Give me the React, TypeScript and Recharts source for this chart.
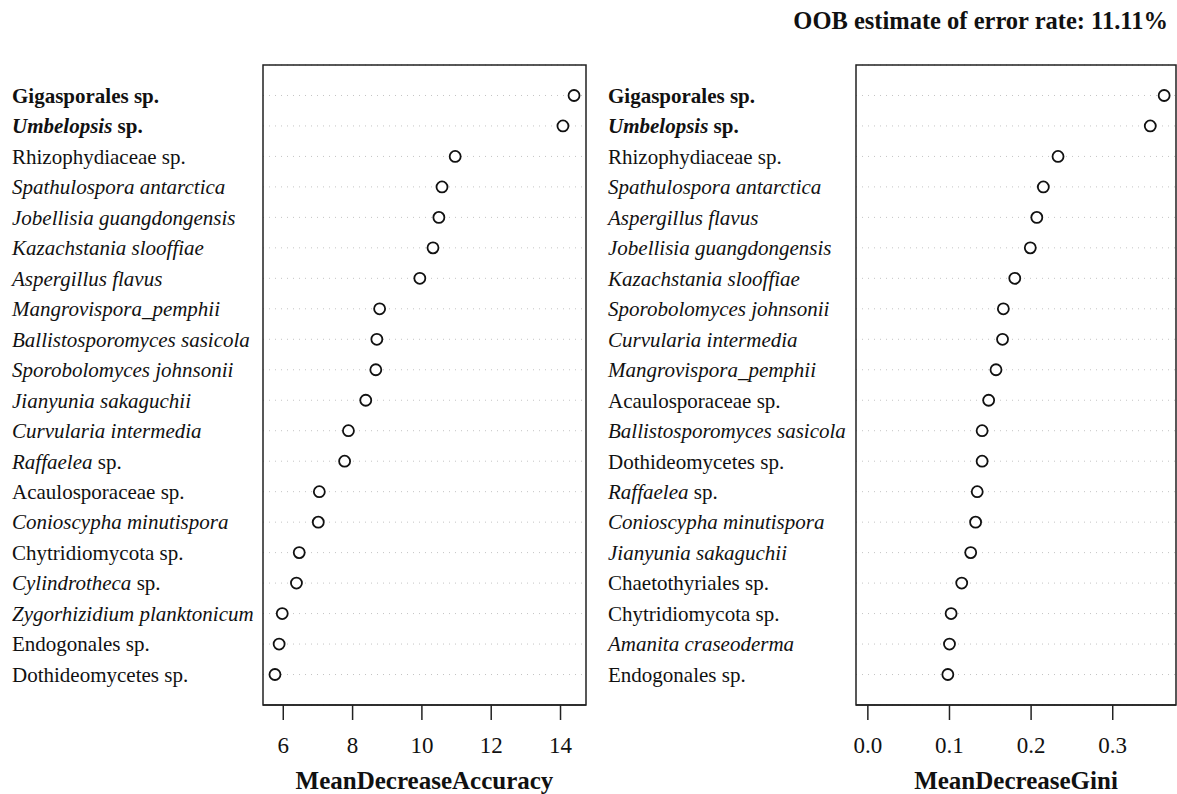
import React from 'react'
import { ScatterChart, Scatter, XAxis, YAxis, CartesianGrid, ReferenceArea } from 'recharts'

// MeanDecreaseAccuracy panel, top to bottom
const accNames = [
  'Gigasporales sp.', 'Umbelopsis sp.', 'Rhizophydiaceae sp.', 'Spathulospora antarctica',
  'Jobellisia guangdongensis', 'Kazachstania slooffiae', 'Aspergillus flavus', 'Mangrovispora_pemphii',
  'Ballistosporomyces sasicola', 'Sporobolomyces johnsonii', 'Jianyunia sakaguchii', 'Curvularia intermedia',
  'Raffaelea sp.', 'Acaulosporaceae sp.', 'Conioscypha minutispora', 'Chytridiomycota sp.',
  'Cylindrotheca sp.', 'Zygorhizidium planktonicum', 'Endogonales sp.', 'Dothideomycetes sp.',
]
const accValues = [
  14.39, 14.07, 10.96, 10.58, 10.49, 10.32, 9.94, 8.78, 8.70, 8.67,
  8.38, 7.88, 7.77, 7.04, 7.01, 6.46, 6.38, 5.97, 5.88, 5.76,
]
const accTicks = [6, 8, 10, 12, 14]

// MeanDecreaseGini panel, top to bottom
const giniNames = [
  'Gigasporales sp.', 'Umbelopsis sp.', 'Rhizophydiaceae sp.', 'Spathulospora antarctica',
  'Aspergillus flavus', 'Jobellisia guangdongensis', 'Kazachstania slooffiae', 'Sporobolomyces johnsonii',
  'Curvularia intermedia', 'Mangrovispora_pemphii', 'Acaulosporaceae sp.', 'Ballistosporomyces sasicola',
  'Dothideomycetes sp.', 'Raffaelea sp.', 'Conioscypha minutispora', 'Jianyunia sakaguchii',
  'Chaetothyriales sp.', 'Chytridiomycota sp.', 'Amanita craseoderma', 'Endogonales sp.',
]
const giniValues = [
  0.363, 0.346, 0.233, 0.215, 0.207, 0.199, 0.180, 0.166, 0.165, 0.157,
  0.148, 0.140, 0.140, 0.134, 0.132, 0.126, 0.115, 0.102, 0.100, 0.098,
]
const giniTicks = [0, 0.1, 0.2, 0.3]

const boldNames = ['Gigasporales sp.', 'Umbelopsis sp.']
const italicGenera = ['Umbelopsis', 'Raffaelea', 'Cylindrotheca']
const FONT = '"Liberation Serif", "Times New Roman", serif'

function LabelText({ name }: { name: string }) {
  const bold = boldNames.includes(name)
  const fw = bold ? 'bold' : 'normal'
  if (name.endsWith(' sp.')) {
    const genus = name.slice(0, -4)
    const ital = italicGenera.includes(genus)
    return (
      <>
        <tspan fontStyle={ital ? 'italic' : 'normal'} fontWeight={fw}>{genus}</tspan>
        <tspan fontWeight={fw}> sp.</tspan>
      </>
    )
  }
  return <tspan fontStyle="italic" fontWeight={fw}>{name}</tspan>
}

function Panel({ names, values, ticks, domain, title, width }: {
  names: string[], values: number[], ticks: number[], domain: number[], title: string, width: number
}) {
  const n = names.length
  const data = names.map((name, i) => ({ name, value: values[i], rank: n - i }))
  const rowTicks = data.map(d => d.rank).reverse()
  const nameByRank: Record<number, string> = {}
  data.forEach(d => { nameByRank[d.rank] = d.name })

  return (
    <ScatterChart width={width} height={794} margin={{ top: 65, right: width === 600 ? 14 : 1, bottom: 0, left: 0 }}>
      <CartesianGrid vertical={false} stroke="#c4c4c4" strokeDasharray="1 5" />
      <XAxis
        type="number"
        dataKey="value"
        domain={domain}
        ticks={ticks}
        allowDataOverflow
        height={89}
        tickSize={15}
        tickMargin={17}
        tick={{ fontSize: 23, fill: '#111', fontFamily: FONT }}
        tickLine={{ stroke: '#222', strokeWidth: 1.5 }}
        axisLine={{ stroke: '#222', strokeWidth: 1.5 }}
        tickFormatter={(v: number) => (width === 600 ? String(v) : v.toFixed(1))}
        label={{ value: title, position: 'insideBottom', offset: 5, fontSize: 25, fontWeight: 'bold', fill: '#111', fontFamily: FONT }}
      />
      <YAxis
        type="number"
        dataKey="rank"
        domain={[0, n + 1]}
        ticks={rowTicks}
        width={width === 600 ? 263 : 260}
        axisLine={false}
        tickLine={false}
        tick={(p: any) => (
          <text x={12} y={p.y} dy="0.35em" fontSize={21} fill="#111" fontFamily={FONT} textAnchor="start">
            <LabelText name={nameByRank[p.payload.value]} />
          </text>
        )}
      />
      <ReferenceArea y1={0} y2={n + 1} fill="none" stroke="#222" strokeWidth={1.5} ifOverflow="visible" />
      <Scatter
        data={data}
        isAnimationActive={false}
        shape={(p: any) => <circle cx={p.cx} cy={p.cy} r={5.5} fill="#fff" stroke="#111" strokeWidth={1.8} />}
      />
    </ScatterChart>
  )
}

export default function App() {
  const accMin = Math.min(...accValues)
  const accMax = Math.max(...accValues)
  const accPad = (accMax - accMin) * 0.04
  const giniMax = Math.max(...giniValues)
  const giniPad = giniMax * 0.04

  return (
    <div style={{ position: 'absolute', left: 0, top: 0, width: 1177, height: 794, background: '#fff', fontFamily: FONT }}>
      <div style={{ position: 'absolute', right: 9, top: 7, fontSize: 24.5, fontWeight: 'bold', color: '#111' }}>
        OOB estimate of error rate: 11.11%
      </div>
      <div style={{ position: 'absolute', left: 0, top: 0 }}>
        <Panel names={accNames} values={accValues} ticks={accTicks}
          domain={[accMin - accPad, accMax + accPad]} title="MeanDecreaseAccuracy" width={600} />
      </div>
      <div style={{ position: 'absolute', left: 596, top: 0 }}>
        <Panel names={giniNames} values={giniValues} ticks={giniTicks}
          domain={[-giniPad, giniMax + giniPad]} title="MeanDecreaseGini" width={581} />
      </div>
    </div>
  )
}
